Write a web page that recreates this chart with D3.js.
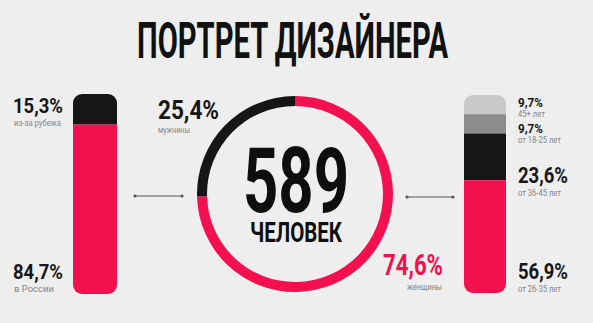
<!DOCTYPE html>
<html>
<head>
<meta charset="utf-8">
<script src="https://cdn.jsdelivr.net/npm/d3@7"></script>
<style>
  body { margin: 0; background: #eeeeee; }
  text { font-family: Roboto, "DejaVu Sans Condensed", sans-serif; }
</style>
</head>
<body>
<svg></svg>
<script>
let width = 593;
let height = 323;
let red = "#f2104f";
let black = "#161616";
let grey = "#858585";

// data
let total = 589;
let originCats = ["из-за рубежа", "в России"];
let originVals = [15.3, 84.7];
let genderCats = ["женщины", "мужчины"];
let genderVals = [74.6, 25.4];
let ageCats = ["45+ лет", "от 18-25 лет", "от 36-45 лет", "от 26-35 лет"];
let ageVals = [9.7, 9.7, 23.6, 56.9];

let fmt = v => String(v).replace(".", ",") + "%";

let svg = d3.select("svg").attr("width", width).attr("height", height);
svg.append("rect").attr("width", width).attr("height", height).attr("fill", "#eeeeee");

// title
svg.append("text")
    .attr("x", 137).attr("y", 58)
    .attr("font-size", 50).attr("font-weight", 700)
    .attr("textLength", 311).attr("lengthAdjust", "spacingAndGlyphs")
    .attr("fill", "#111")
    .text("ПОРТРЕТ ДИЗАЙНЕРА");

// helper for a stacked rounded bar
function stackBar(id, x, w, y0, y1, vals, colors) {
    let sum = d3.sum(vals);
    let yScale = d3.scaleLinear().domain([0, sum]).range([y0, y1]);
    svg.append("clipPath").attr("id", id)
        .append("rect").attr("x", x).attr("y", y0).attr("width", w)
        .attr("height", y1 - y0).attr("rx", 9);
    let cum = 0;
    let segs = vals.map((v, i) => { let s = {start: cum, end: cum + v, i: i}; cum += v; return s; });
    svg.append("g").attr("clip-path", "url(#" + id + ")")
        .selectAll("rect").data(segs).enter().append("rect")
        .attr("x", x).attr("width", w)
        .attr("y", d => yScale(d.start))
        .attr("height", d => yScale(d.end) - yScale(d.start))
        .attr("fill", d => colors[d.i]);
    return yScale;
}

// left bar: origin
stackBar("clipL", 73, 44, 94, 294, originVals, [black, red]);
// right bar: age
stackBar("clipR", 464, 42, 95, 293, ageVals, ["#c9c9c9", "#8c8c8c", black, red]);

function label(x, y, txt, size, len, color, anchor, weight) {
    svg.append("text")
        .attr("x", x).attr("y", y)
        .attr("font-size", size).attr("font-weight", weight || 700)
        .attr("textLength", len).attr("lengthAdjust", "spacingAndGlyphs")
        .attr("text-anchor", anchor || "start")
        .attr("fill", color)
        .text(txt);
}

// left labels
label(13, 113, fmt(originVals[0]), 21, 50, black);
label(14, 125.5, originCats[0], 9.5, 47, grey, "start", 400);
label(13, 279, fmt(originVals[1]), 21, 50, black);
label(14, 292, originCats[1], 9.5, 40, grey, "start", 400);

// right labels
let ageLabelY = [[107, 117], [133, 143], [183, 195.5], [279, 292]];
let ageSizes = [13, 13, 22, 22];
let ageLens = [[25, 27], [25, 43], [50, 43], [50, 43]];
ageVals.forEach((v, i) => {
    label(518, ageLabelY[i][0], fmt(v), ageSizes[i], ageLens[i][0], black);
    label(518, ageLabelY[i][1], ageCats[i], 9.5, ageLens[i][1], grey, "start", 400);
});

// donut: gender
let cx = 295, cy = 194;
let pie = d3.pie().sort(null);
let arc = d3.arc().innerRadius(88).outerRadius(98);
let arcColors = [red, black];
svg.append("g").attr("transform", "translate(" + cx + "," + cy + ")")
    .selectAll("path").data(pie(genderVals)).enter().append("path")
    .attr("d", arc)
    .attr("fill", (d, i) => arcColors[i]);

svg.append("text")
    .attr("x", cx + 1).attr("y", 212)
    .attr("font-size", 90).attr("font-weight", 700)
    .attr("text-anchor", "middle")
    .attr("textLength", 106).attr("lengthAdjust", "spacingAndGlyphs")
    .attr("fill", "#0e0e0e")
    .text(total);
svg.append("text")
    .attr("x", cx + 1).attr("y", 242)
    .attr("font-size", 28).attr("font-weight", 700)
    .attr("text-anchor", "middle")
    .attr("textLength", 92).attr("lengthAdjust", "spacingAndGlyphs")
    .attr("fill", "#0e0e0e")
    .text("ЧЕЛОВЕК");

// gender labels
label(158, 119, fmt(genderVals[1]), 26, 61, black);
label(158, 133, genderCats[1], 9, 32, grey, "start", 400);
label(443, 275, fmt(genderVals[0]), 29, 60, red, "end");
label(442, 290, genderCats[0], 9, 35, grey, "end", 400);

// connectors
let conns = [[135, 182, 196], [407, 453, 197]];
conns.forEach(c => {
    svg.append("line").attr("x1", c[0]).attr("x2", c[1]).attr("y1", c[2]).attr("y2", c[2])
        .attr("stroke", "#555").attr("stroke-width", 1);
    svg.append("circle").attr("cx", c[0]).attr("cy", c[2]).attr("r", 1.6).attr("fill", "#555");
    svg.append("circle").attr("cx", c[1]).attr("cy", c[2]).attr("r", 1.6).attr("fill", "#555");
});
</script>
</body>
</html>
